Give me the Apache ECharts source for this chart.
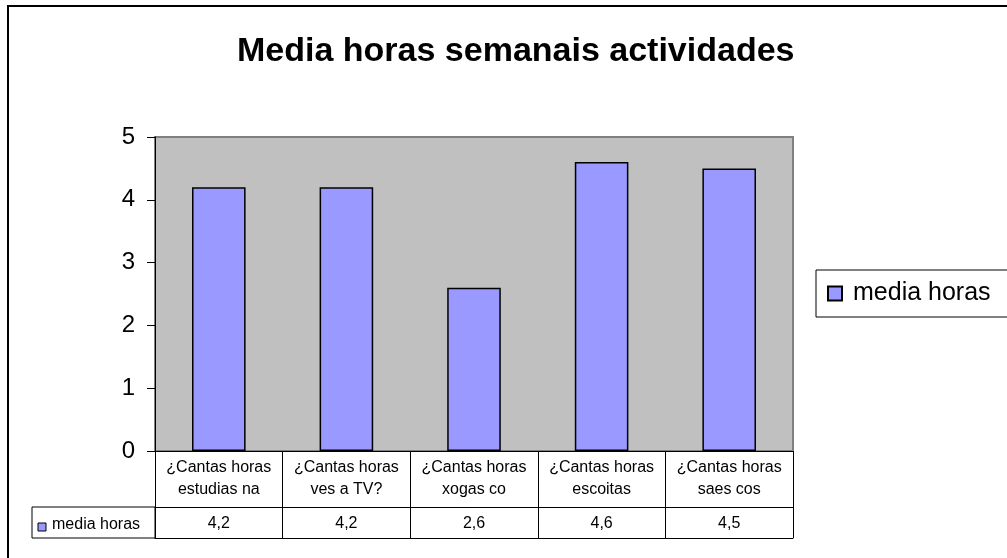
<!DOCTYPE html>
<html>
<head>
<meta charset="utf-8">
<script src="https://cdn.jsdelivr.net/npm/echarts@6/dist/echarts.min.js"></script>
<style>
  html, body { margin: 0; padding: 0; background: #fff; }
  #main { width: 1007px; height: 558px; }
</style>
</head>
<body>
<div id="main"></div>
<script>
// datos
const categories = [
  "¿Cantas horas\nestudias na",
  "¿Cantas horas\nves a TV?",
  "¿Cantas horas\nxogas co",
  "¿Cantas horas\nescoitas",
  "¿Cantas horas\nsaes cos"
];
const mediaHoras = [4.2, 4.2, 2.6, 4.6, 4.5];
const seriesName = "media horas";
const yMin = 0, yMax = 5, yStep = 1;

const fmt = v => v.toFixed(1).replace(".", ",");
const font = "Liberation Sans, Arial, sans-serif";

let option = {
  animation: false,
  title: {
    // título
    text: "Media horas semanais actividades",
    left: 232,
    top: 30,
    textStyle: { fontFamily: font, fontSize: 34, fontWeight: "bold", color: "#000" }
  },
  legend: {
    data: [seriesName],
    left: 816,
    top: 270,
    padding: [11, 40, 11, 11],
    borderColor: "#000",
    borderWidth: 1,
    backgroundColor: "#fff",
    icon: "rect",
    itemWidth: 14,
    itemHeight: 14,
    textStyle: { fontFamily: font, fontSize: 25, color: "#000", padding: [0, 0, 0, 6] }
  },
  grid: {
    left: 155,
    top: 137,
    width: 638,
    height: 314,
    show: true,
    backgroundColor: "#C0C0C0",
    borderColor: "#808080",
    borderWidth: 2
  },
  xAxis: [
    {
      // eixo principal + cabeceira da táboa
      type: "category",
      data: categories,
      axisLine: { lineStyle: { color: "#000", width: 1 } },
      axisTick: { show: true, length: 87, lineStyle: { color: "#000", width: 1 } },
      axisLabel: {
        interval: 0,
        margin: 6,
        fontFamily: font,
        fontSize: 16,
        lineHeight: 22,
        color: "#000"
      }
    },
    {
      // fila de valores
      type: "category",
      data: categories,
      position: "bottom",
      offset: 56,
      axisLine: { lineStyle: { color: "#000", width: 1 } },
      axisTick: { show: false },
      axisLabel: {
        interval: 0,
        margin: 9,
        fontFamily: font,
        fontSize: 16,
        color: "#000",
        formatter: (v, i) => fmt(mediaHoras[i])
      }
    },
    {
      // borde inferior da táboa
      type: "category",
      data: categories,
      position: "bottom",
      offset: 87,
      axisLine: { lineStyle: { color: "#000", width: 1 } },
      axisTick: { show: false },
      axisLabel: { show: false }
    }
  ],
  yAxis: {
    type: "value",
    min: yMin,
    max: yMax,
    interval: yStep,
    axisLine: { show: true, lineStyle: { color: "#000", width: 1 } },
    axisTick: { show: true, length: 8, lineStyle: { color: "#000" } },
    splitLine: { show: false },
    axisLabel: { margin: 20, fontFamily: font, fontSize: 24, color: "#000" }
  },
  series: [
    {
      name: seriesName,
      type: "bar",
      xAxisIndex: 0,
      data: mediaHoras,
      barWidth: "42%",
      itemStyle: { color: "#9999FF", borderColor: "#000", borderWidth: 1.5 }
    }
  ],
  graphic: [
    {
      // marco exterior
      type: "rect",
      shape: { x: 8, y: 6, width: 1100, height: 700 },
      style: { fill: "none", stroke: "#000", lineWidth: 2 },
      silent: true
    },
    {
      // cela da lenda na táboa
      type: "rect",
      shape: { x: 32, y: 507, width: 123, height: 31 },
      style: { fill: "none", stroke: "#000", lineWidth: 1 }
    },
    {
      type: "rect",
      shape: { x: 38, y: 523, width: 8, height: 8 },
      style: { fill: "#9999FF", stroke: "#000", lineWidth: 1 }
    },
    {
      type: "text",
      x: 52,
      y: 525,
      style: {
        text: seriesName,
        font: "16px " + font,
        fill: "#000",
        verticalAlign: "middle"
      }
    }
  ]
};

let myChart = echarts.init(document.getElementById("main"));
myChart.setOption(option);
</script>
</body>
</html>
